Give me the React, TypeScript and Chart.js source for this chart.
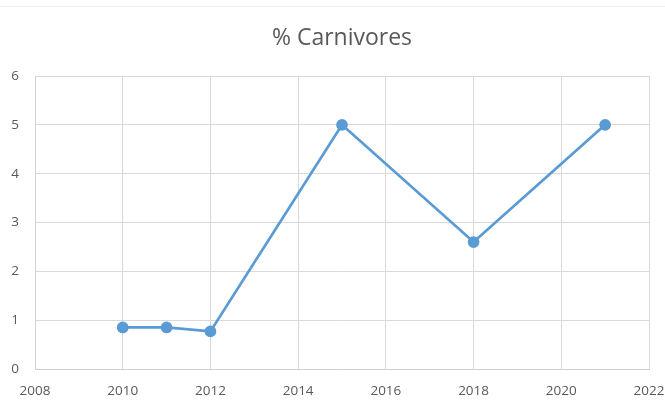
import React, { useEffect, useRef } from "react";
import { Chart, registerables } from "chart.js";

Chart.register(...registerables);

const years = [2010, 2011, 2012, 2015, 2018, 2021];
const carnivores = [0.85, 0.85, 0.77, 5, 2.6, 5];
const titleText = "% Carnivores";
const xMin = 2008;
const xMax = 2022;
const xStep = 2;
const yMin = 0;
const yMax = 6;
const yStep = 1;

const titlePlugin = {
  id: "centeredTitle",
  afterDraw(chart: any) {
    const { ctx, chartArea } = chart;
    ctx.save();
    ctx.fillStyle = "#595959";
    ctx.font = "23px 'Open Sans'";
    ctx.textAlign = "center";
    ctx.textBaseline = "middle";
    ctx.fillText(titleText, (chartArea.left + chartArea.right) / 2, 38);
    ctx.restore();
  },
};

export default function App() {
  const ref = useRef<HTMLCanvasElement | null>(null);
  useEffect(() => {
    document.body.style.margin = "0";
    const ctx = ref.current!.getContext("2d")!;
    const chart = new Chart(ctx, {
      type: "line",
      data: {
        datasets: [
          {
            label: titleText,
            data: years.map((y, i) => ({ x: y, y: carnivores[i] })),
            borderColor: "#5b9bd5",
            backgroundColor: "#5b9bd5",
            borderWidth: 2.75,
            pointRadius: 4.5,
            pointHoverRadius: 4.5,
            tension: 0,
          },
        ],
      },
      plugins: [titlePlugin],
      options: {
        responsive: false,
        animation: false,
        layout: { padding: { left: 0, right: 16, top: 76, bottom: 0 } },
        plugins: {
          legend: { display: false },
          tooltip: { enabled: false },
          title: { display: false },
        },
        scales: {
          x: {
            type: "linear",
            min: xMin,
            max: xMax,
            ticks: {
              stepSize: xStep,
              color: "#595959",
              font: { family: "Open Sans", size: 13.5 },
              padding: 14,
              maxRotation: 0,
              callback: (v: any) => String(v),
            },
            grid: { color: "#d9d9d9", lineWidth: 1, drawTicks: false },
            border: { color: "#d0d0d0", width: 1 },
            afterFit: (s: any) => {
              s.height = 32;
              s.paddingRight = 16;
            },
          },
          y: {
            min: yMin,
            max: yMax,
            ticks: {
              stepSize: yStep,
              color: "#595959",
              font: { family: "Open Sans", size: 13.5 },
              padding: 16,
            },
            grid: { color: "#d9d9d9", lineWidth: 1, drawTicks: false },
            border: { color: "#d0d0d0", width: 1 },
            afterFit: (s: any) => {
              s.width = 35;
            },
          },
        },
      },
    });
    return () => chart.destroy();
  }, []);
  return (
    <div style={{ position: "absolute", left: 0, top: 0, width: 665, height: 401, background: "#fff" }}>
      <div style={{ position: "absolute", left: 0, top: 6, width: 665, height: 1, background: "#efefef" }} />
      <canvas ref={ref} width={665} height={401} style={{ display: "block" }} />
    </div>
  );
}
